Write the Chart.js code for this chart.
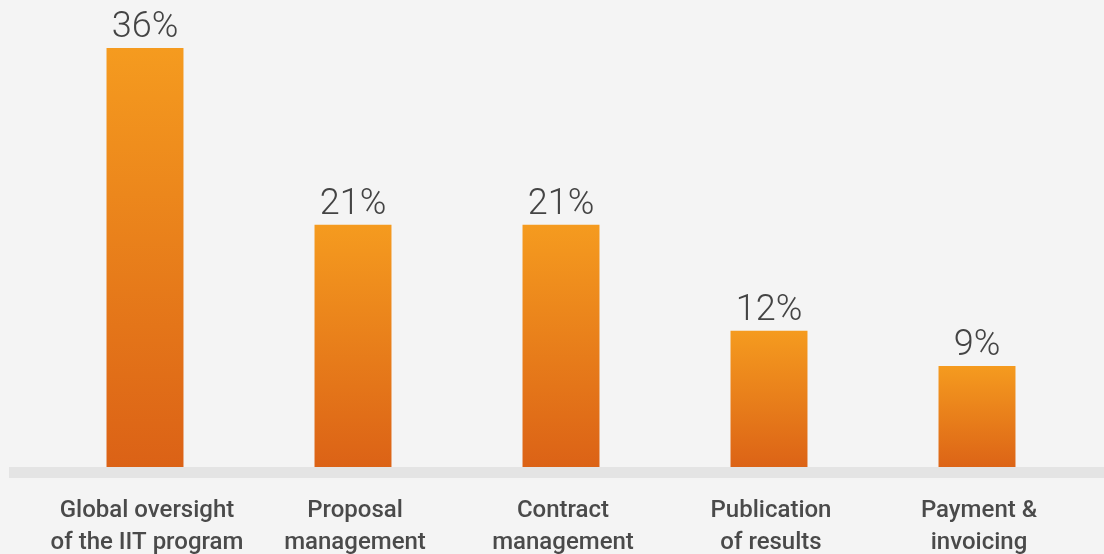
<!DOCTYPE html>
<html>
<head>
<meta charset="utf-8">
<script src="https://cdn.jsdelivr.net/npm/chart.js@4"></script>
<style>
  html, body { margin: 0; padding: 0; background: #F4F4F4; }
  #wrap { width: 1104px; height: 554px; position: relative; }
</style>
</head>
<body>
<div id="wrap"><canvas id="c" width="1104" height="554"></canvas></div>
<script>
const categories = [
  ['Global oversight', 'of the IIT program'],
  ['Proposal', 'management'],
  ['Contract', 'management'],
  ['Publication', 'of results'],
  ['Payment &', 'invoicing']
];
const shares = [36, 21, 21, 12, 9];
const valueLabels = ['36%', '21%', '21%', '12%', '9%'];

// Vertical orange gradient spanning each bar from its top to the zero line
function barGradient(ctx) {
  const chart = ctx.chart;
  const y = chart.scales && chart.scales.y;
  if (!chart.chartArea || !y || ctx.raw === undefined) return '#EE8A1E';
  const top = y.getPixelForValue(ctx.raw);
  const base = y.getPixelForValue(0);
  const g = chart.ctx.createLinearGradient(0, top, 0, base);
  g.addColorStop(0, '#F59B1F');
  g.addColorStop(1, '#DB6116');
  return g;
}

// Grey baseline band across the bottom of the plot
const baselinePlugin = {
  id: 'baselineBand',
  afterDatasetsDraw(chart) {
    const c = chart.ctx;
    c.save();
    c.fillStyle = '#E4E4E4';
    c.fillRect(9, 467, chart.width - 9, 11);
    c.restore();
  }
};

// Percentage labels above each bar and two-line category names below the band
const labelPlugin = {
  id: 'barLabels',
  afterDatasetsDraw(chart) {
    const c = chart.ctx;
    const meta = chart.getDatasetMeta(0);
    c.save();
    c.textAlign = 'center';
    c.textBaseline = 'alphabetic';
    c.font = '300 36px Roboto';
    c.fillStyle = '#444444';
    meta.data.forEach((bar, i) => {
      c.fillText(valueLabels[i], bar.x, bar.y - 11);
    });
    c.font = '500 24px Roboto';
    c.fillStyle = '#4A4A4A';
    meta.data.forEach((bar, i) => {
      categories[i].forEach((line, k) => {
        c.fillText(line, bar.x + 2, 517 + k * 31.6);
      });
    });
    c.restore();
  }
};

const bg = {
  id: 'bg',
  beforeDraw(chart) {
    const c = chart.ctx;
    c.save();
    c.fillStyle = '#F4F4F4';
    c.fillRect(0, 0, chart.width, chart.height);
    c.restore();
  }
};

new Chart(document.getElementById('c'), {
  type: 'bar',
  data: {
    labels: categories,
    datasets: [{
      data: shares,
      backgroundColor: barGradient,
      borderWidth: 0,
      barPercentage: 0.37,
      categoryPercentage: 1.0
    }]
  },
  options: {
    responsive: false,
    animation: false,
    devicePixelRatio: 1,
    layout: { padding: { left: 41, right: 23, top: 48, bottom: 82 } },
    plugins: { legend: { display: false }, tooltip: { enabled: false } },
    scales: {
      y: { display: false, min: 0, max: 36 },
      x: { display: false }
    }
  },
  plugins: [bg, baselinePlugin, labelPlugin]
});
</script>
</body>
</html>
